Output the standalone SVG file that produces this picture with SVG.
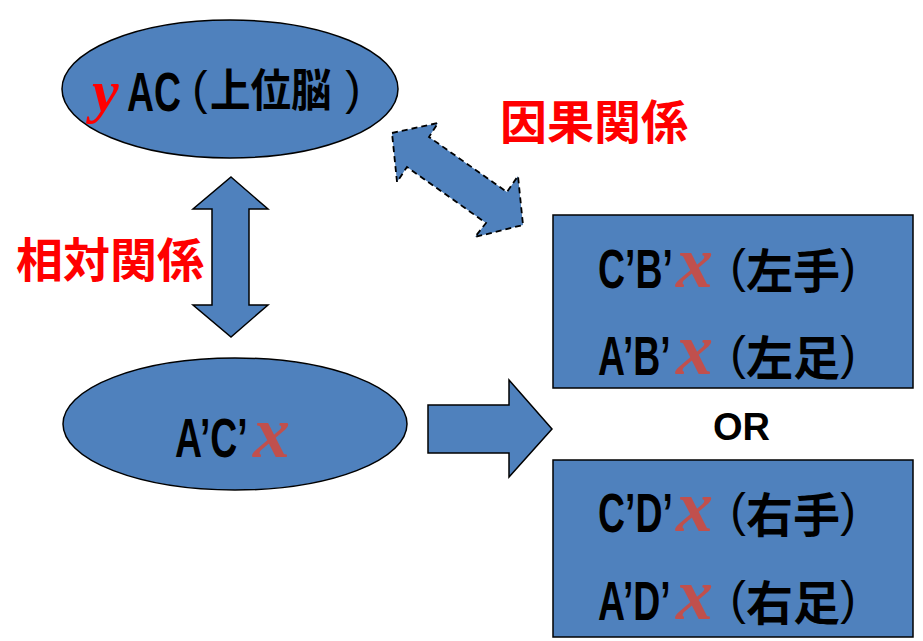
<svg xmlns="http://www.w3.org/2000/svg" width="923" height="641" viewBox="0 0 923 641">
<style>
.shape{fill:#4f81bd;stroke:#000;stroke-width:1.5}
.dash{fill:#4f81bd;stroke:#000;stroke-width:1.8;stroke-dasharray:6 4}
.lat{font-family:"Liberation Sans",Arial,sans-serif;font-weight:bold;fill:#000}
.par{font-family:"Liberation Sans",Arial,sans-serif;font-weight:normal;fill:#000;text-anchor:middle}
.cjk{font-family:"Noto Sans CJK JP",sans-serif;font-weight:bold;fill:#000}
.var{font-family:"Liberation Serif","Times New Roman",serif;font-weight:bold;font-style:italic;fill:#c0504d}
.lbl{font-family:"Noto Sans CJK JP",sans-serif;font-weight:bold;fill:#ff0000;font-size:47px}
</style>
<rect width="923" height="641" fill="#fff"/>
<g id="connectors">
<polygon class="shape" points="231,177 268,209 249,209 249,305 268,305 231,337 193,305 212,305 212,209 193,209"/>
<polygon class="dash" points="392,133 438,123 429,137 507,192 518,176 523,225 475,237 486,223 407,167 397,182"/>
<polygon class="shape" points="428,405 509,405 509,380 552,429 509,477 509,453 428,453"/>
</g>
<g id="node-upper">
<ellipse class="shape" cx="230" cy="89" rx="168" ry="69"/>
<text class="var" x="92" y="111" font-size="60" style="fill:#ff0000">y</text>
<text class="lat" font-size="55" transform="translate(127,111) scale(0.68,1)">AC</text>
<text class="par" font-size="46" x="200" y="104">(</text>
<text class="cjk" font-size="45" transform="translate(210,107) scale(0.9,1)">上位脳</text>
<text class="par" font-size="46" x="353" y="104">)</text>
</g>
<g id="label-correlation">
<text class="lbl" x="16" y="277">相対関係</text>
</g>
<g id="label-causal">
<text class="lbl" x="500" y="139">因果関係</text>
</g>
<g id="node-middle">
<ellipse class="shape" cx="235" cy="424" rx="172" ry="66"/>
<text class="lat" font-size="55" transform="translate(175,457) scale(0.68,1)">A’C’</text>
<text class="var" x="253" y="457" font-size="74">x</text>
</g>
<g id="node-left">
<rect class="shape" x="553" y="215" width="360" height="173"/>
<text class="lat" font-size="55" transform="translate(598,288) scale(0.68,1)">C’B’</text>
<text class="var" x="676" y="287" font-size="74">x</text>
<text class="par" font-size="47" x="738" y="282">(</text>
<text class="cjk" font-size="47" x="746" y="288">左手</text>
<text class="par" font-size="47" x="848" y="282">)</text>
<text class="lat" font-size="55" transform="translate(598,375) scale(0.68,1)">A’B’</text>
<text class="var" x="676" y="374" font-size="74">x</text>
<text class="par" font-size="47" x="738" y="369">(</text>
<text class="cjk" font-size="47" x="746" y="375">左足</text>
<text class="par" font-size="47" x="848" y="369">)</text>
</g>
<g id="or-label">
<text class="lat" font-size="38" x="713" y="440">OR</text>
</g>
<g id="node-right">
<rect class="shape" x="553" y="460" width="360" height="177"/>
<text class="lat" font-size="55" transform="translate(598,532) scale(0.68,1)">C’D’</text>
<text class="var" x="676" y="531" font-size="74">x</text>
<text class="par" font-size="47" x="738" y="526">(</text>
<text class="cjk" font-size="47" x="746" y="532">右手</text>
<text class="par" font-size="47" x="848" y="526">)</text>
<text class="lat" font-size="55" transform="translate(598,620) scale(0.68,1)">A’D’</text>
<text class="var" x="676" y="619" font-size="74">x</text>
<text class="par" font-size="47" x="738" y="614">(</text>
<text class="cjk" font-size="47" x="746" y="620">右足</text>
<text class="par" font-size="47" x="848" y="614">)</text>
</g>
</svg>
